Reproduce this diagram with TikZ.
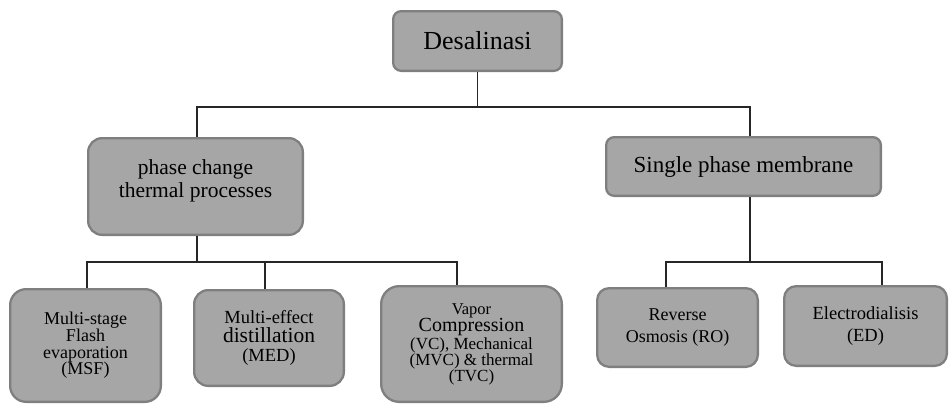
\documentclass[tikz,border=0pt]{standalone}
\usepackage{fontspec}
\setmainfont{Liberation Serif}
\definecolor{boxfill}{HTML}{A6A6A6}
\definecolor{boxedge}{HTML}{7F7F7F}
\newcommand{\fs}[2]{\fontsize{#1}{#2}\selectfont}
\begin{document}
\begin{tikzpicture}[x=1pt,y=-1pt,
  box/.style={draw=boxedge, fill=boxfill, line width=2.3pt, align=center, inner sep=0pt, text=black},
  txt/.style={align=center, inner sep=0pt, text=black},
  conn/.style={draw=black!85, line width=1.1pt}]
\useasboundingbox (0,0) rectangle (949,405);
\coordinate (bus1) at (0,107);
\coordinate (bus2) at (0,262);

\node[box, rounded corners=8pt, minimum width=168.7pt, minimum height=59.7pt, font=\fs{26}{28}] (des) at (477.5,41) {Desalinasi};
\node[box, rounded corners=14pt, minimum width=214.7pt, minimum height=96.7pt] (pc) at (195.5,186.5) {};
\node[txt, font=\fs{21.5}{23}] (pcl) at ([yshift=6pt]pc.center) {phase change\\thermal processes};
\node[box, rounded corners=8pt, minimum width=274.7pt, minimum height=58.7pt, font=\fs{23}{25}] (spm) at (743.5,166.5) {Single phase membrane};

\node[box, rounded corners=16pt, minimum width=150.7pt, minimum height=112.7pt, font=\fs{18}{16.7}] (msf) at (85.5,345.5) {Multi-stage\\Flash\\evaporation\\(MSF)};
\node[box, rounded corners=14pt, minimum width=149.7pt, minimum height=95.7pt, font=\fs{18.5}{19}] (med) at (269,338) {\fs{18.5}{19}Multi-effect\\\fs{21.5}{19}distillation\\\fs{18.5}{19}(MED)};
\node[box, rounded corners=18pt, minimum width=180.7pt, minimum height=115.7pt, font=\fs{17}{16}] (vc) at (471.5,344) {\fs{16.5}{16}Vapor\\\fs{20}{16}Compression\\\fs{17}{16}(VC), Mechanical\\\fs{17}{16}(MVC) \& thermal\\\fs{17}{16}(TVC)};
\node[box, rounded corners=12pt, minimum width=160.7pt, minimum height=78.7pt, font=\fs{18}{22}] (ro) at (677.5,327.5) {Reverse\\Osmosis (RO)};
\node[box, rounded corners=12pt, minimum width=162.7pt, minimum height=79.7pt, font=\fs{18.5}{22}] (ed) at (865.5,326) {Electrodialisis\\(ED)};

\draw[conn] (des.south) -- (des.south |- bus1);
\draw[conn] ([xshift=1.5pt]pc.north) |- ([xshift=6.5pt]spm.north |- bus1) -- ([xshift=6.5pt]spm.north);
\draw[conn] ([xshift=1.5pt]pc.south) -- ([xshift=1.5pt]pc.south |- bus2);
\draw[conn] ([xshift=1.5pt]msf.north) |- ([xshift=-14.5pt]vc.north |- bus2) -- ([xshift=-14.5pt]vc.north);
\draw[conn] ([xshift=-4pt]med.north) -- ([xshift=-4pt]med.north |- bus2);
\draw[conn] ([xshift=6.5pt]spm.south) -- ([xshift=6.5pt]spm.south |- bus2);
\draw[conn] ([xshift=-11.5pt]ro.north) |- ([xshift=16.5pt]ed.north |- bus2) -- ([xshift=16.5pt]ed.north);
\end{tikzpicture}
\end{document}
